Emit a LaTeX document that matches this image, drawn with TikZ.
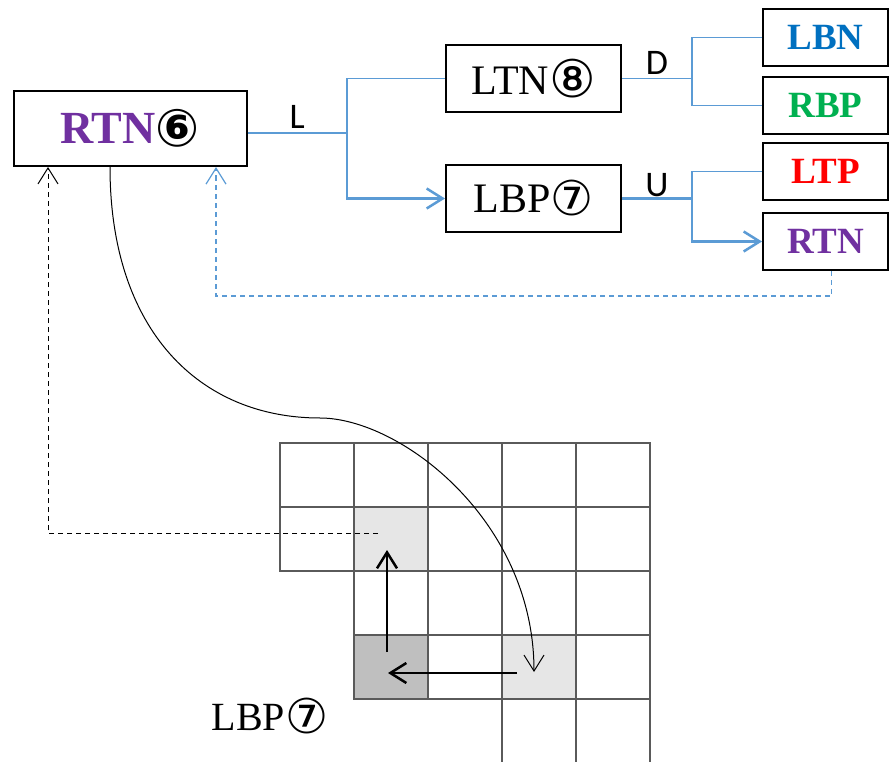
\documentclass[tikz,border=0pt]{standalone}
\usepackage{fontspec}
\setmainfont{Liberation Serif}
\newfontfamily\lblfont{Carlito}
\newfontfamily\circfont{DejaVu Sans}
\usetikzlibrary{arrows.meta}
\definecolor{lnblue}{HTML}{5B9BD5}
\definecolor{tblue}{HTML}{0070C0}
\definecolor{tgreen}{HTML}{00B050}
\definecolor{tred}{HTML}{FF0000}
\definecolor{tpurple}{HTML}{7030A0}
\definecolor{gridgray}{HTML}{5A5A5A}
\definecolor{lightcell}{HTML}{E6E6E6}
\definecolor{darkcell}{HTML}{BFBFBF}
\newcommand{\pu}[1]{\textcolor{tpurple}{#1}}
\newcommand{\cnum}[2]{\raisebox{-3pt}{\circfont\fontsize{#1}{#1}\selectfont #2}}

\begin{document}
\begin{tikzpicture}[x=1pt,y=-1pt,
    box/.style={draw,line width=2pt,inner sep=0pt},
    mid/.style={box,minimum width=175pt,minimum height=67pt,font=\fontsize{42}{42}\selectfont},
    leaf/.style={box,minimum width=125pt,minimum height=57pt,font=\fontsize{37}{37}\selectfont\bfseries},
    link/.style={draw=lnblue,line width=1.2pt},
    taken/.style={draw=lnblue,line width=2.5pt},
    barb/.style={-{Straight Barb[length=16pt,width=20pt]}},
    lbl/.style={font=\lblfont\fontsize{36}{36}\selectfont,above,inner sep=3pt},
    cell/.style={draw=gridgray,line width=1.3pt,minimum width=74pt,minimum height=64pt,inner sep=0pt}]
  \useasboundingbox (0,0) rectangle (889,762);

  \node[box,minimum width=233pt,minimum height=75pt,font=\fontsize{46}{46}\selectfont\bfseries]
    (rtn6) at (130,128.5) {\pu{RTN}\cnum{52}{⑥}};
  \node[mid] (ltn8) at (533.5,78.5) {LTN\cnum{52}{⑧}};
  \node[mid] (lbp7) at (533.5,198.5) {LBP\cnum{48}{⑦}};
  \node[leaf,text=tblue] (lbn) at (825.5,37.5) {LBN};
  \node[leaf,text=tgreen] (rbp) at (825.5,105.5) {RBP};
  \node[leaf,text=tred] (ltp) at (825.5,171.5) {LTP};
  \node[leaf,text=tpurple] (rtn) at (825.5,241.5) {RTN};

  \coordinate (j1) at (347,133);
  \coordinate (j2) at (692,78.5);
  \coordinate (j3) at (692,198.5);
  \path[link] (j1) |- (ltn8.west);
  \path[taken,barb] (rtn6.east |- j1) -- node[lbl,text=black]{L} (j1) |- (lbp7.west);
  \path[link] (ltn8.east) -- node[lbl,text=black]{D} (j2);
  \path[link] (lbn.west) -| (j2) |- (rbp.west);
  \path[taken] (lbp7.east) -- node[lbl,text=black,inner sep=0pt]{U} (j3);
  \path[link] (j3) |- (ltp.west);
  \path[taken,barb] (j3) |- (rtn.west);

  \coordinate (b1) at (216,296);
  \path[link,dashed,dash pattern=on 5pt off 4pt,barb] ([xshift=6pt]rtn.south) |- (b1) -- (b1 |- rtn6.south);

  \foreach \c/\r/\f in {0/0/white,1/0/white,2/0/white,3/0/white,4/0/white,
      0/1/white,1/1/lightcell,2/1/white,3/1/white,4/1/white,
      1/2/white,2/2/white,3/2/white,4/2/white,
      1/3/darkcell,2/3/white,3/3/lightcell,4/3/white,
      3/4/white,4/4/white}
    \node[cell,fill=\f] (c\c\r) at (317+74*\c,475+64*\r) {};

  \draw[line width=2.5pt,barb] ([xshift=-22pt,yshift=-6pt]c33.center) -- ([xshift=-3pt,yshift=-6pt]c13.center);
  \draw[line width=2.5pt,barb] ([xshift=-4pt,yshift=15pt]c13.center) -- ([xshift=-4pt,yshift=-11pt]c11.center);

  \coordinate (bend) at (320,418);
  \draw[line width=1pt,barb] ([xshift=-20pt]rtn6.south) .. controls +(0,164) and +(-120,0) .. (bend)
    .. controls +(80,0) and +(0,-152) .. ([xshift=-5pt,yshift=-5pt]c33.center);
  \draw[line width=1pt,dashed,dash pattern=on 5pt off 4pt,barb] ([xshift=-13pt,yshift=6pt]c11.center) -| ([xshift=-82pt]rtn6.south);

  \node[font=\fontsize{40}{40}\selectfont] (lbl7) at (270,716) {LBP\cnum{48}{⑦}};
\end{tikzpicture}
\end{document}
